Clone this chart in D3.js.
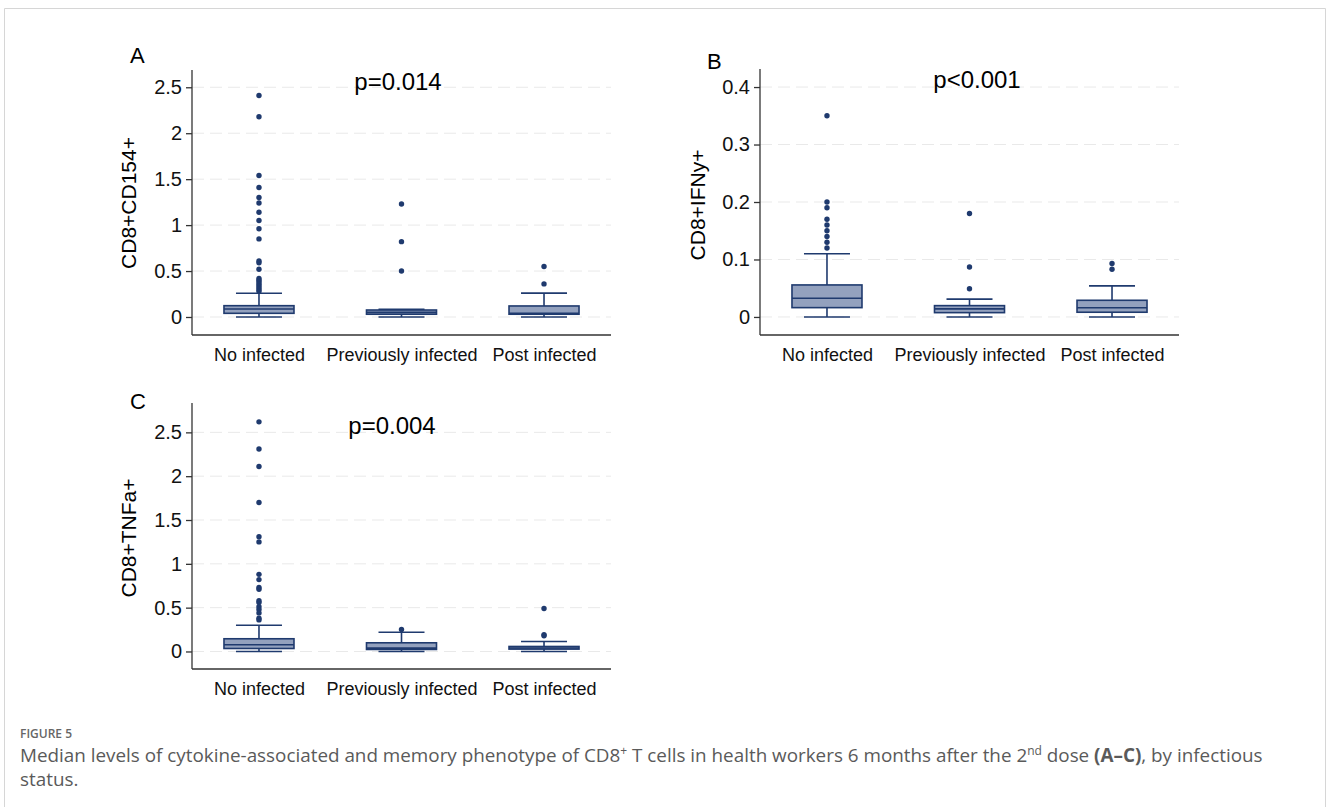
<!DOCTYPE html>
<html>
<head>
<meta charset="utf-8">
<script src="https://cdn.jsdelivr.net/npm/d3@7"></script>
<style>
body { margin: 0; background: #fff; }
svg { display: block; }
.axis path, .axis line { stroke: #333; stroke-width: 1.3; }
.axis text { font-family: "Liberation Sans", Arial, sans-serif; fill: #111; }
.yax text { font-size: 20px; }
.xax text { font-size: 18px; }
</style>
</head>
<body>
<script>
// groups
var groups = ["No infected", "Previously infected", "Post infected"];

// box stats: [lower whisker, q1, median, q3, upper whisker]
var cd154Box = [[0, 0.04, 0.087, 0.123, 0.258], [0, 0.03, 0.05, 0.076, 0.084], [0, 0.03, 0.04, 0.12, 0.26]];
var cd154Out = [
    [2.41, 2.18, 1.54, 1.41, 1.30, 1.24, 1.14, 1.05, 0.96, 0.85, 0.61, 0.59, 0.52, 0.42, 0.40, 0.38, 0.36, 0.34, 0.32, 0.30, 0.28],
    [1.23, 0.82, 0.50],
    [0.55, 0.36]
];
var ifnBox = [[0, 0.0162, 0.0325, 0.0557, 0.11], [0, 0.0075, 0.014, 0.0197, 0.031], [0, 0.0082, 0.016, 0.029, 0.054]];
var ifnOut = [
    [0.35, 0.20, 0.19, 0.17, 0.16, 0.15, 0.14, 0.13, 0.12],
    [0.18, 0.087, 0.049],
    [0.093, 0.083]
];
var tnfBox = [[0, 0.034, 0.076, 0.145, 0.30], [0, 0.023, 0.038, 0.099, 0.22], [0, 0.027, 0.04, 0.057, 0.114]];
var tnfOut = [
    [2.62, 2.31, 2.11, 1.70, 1.31, 1.25, 0.88, 0.82, 0.73, 0.71, 0.58, 0.56, 0.51, 0.48, 0.44, 0.38, 0.36],
    [0.25],
    [0.49, 0.19, 0.18]
];

// ticks
var cd154Ticks = [0, 0.5, 1, 1.5, 2, 2.5];
var ifnTicks = [0, 0.1, 0.2, 0.3, 0.4];
var tnfTicks = [0, 0.5, 1, 1.5, 2, 2.5];

var fillColor = "#93a1be", navy = "#1f3a6e";

var svg = d3.select("body").append("svg")
    .attr("width", 1328)
    .attr("height", 807);

// frame
svg.append("path")
    .attr("d", "M4.5,812 V8.5 H1325.5 V812")
    .attr("fill", "none")
    .attr("stroke", "#d6d6d6");

function drawPanel(p) {
    var x = d3.scalePoint().domain(groups).range([p.x0, p.x1]).padding(0.47);
    var y = d3.scaleLinear().domain(p.domain).range([p.y1, p.y0]);
    var g = svg.append("g");

    // grid
    g.selectAll(".grid").data(p.ticks).enter().append("line")
        .attr("x1", p.x0).attr("x2", p.x1)
        .attr("y1", function(d) { return y(d); })
        .attr("y2", function(d) { return y(d); })
        .attr("stroke", "#e9e9e9")
        .attr("stroke-width", 1)
        .attr("stroke-dasharray", "12,6");

    // axes
    var yAxis = d3.axisLeft(y).tickValues(p.ticks).tickSize(6).tickPadding(4)
        .tickFormat(function(d) { return d3.format("")(d); });
    g.append("g").attr("class", "axis yax")
        .attr("transform", "translate(" + p.x0 + ",0)")
        .call(yAxis)
        .call(function(a) { a.select(".domain").attr("d", "M0," + p.y0 + "V" + p.y1); });

    var xAxis = d3.axisBottom(x).tickSize(0).tickPadding(13);
    g.append("g").attr("class", "axis xax")
        .attr("transform", "translate(0," + p.y1 + ")")
        .call(xAxis)
        .call(function(a) { a.select(".domain").attr("d", "M" + p.x0 + ",0H" + p.x1); });

    // boxes
    var bw = 70, cw = 46;
    groups.forEach(function(grp, i) {
        var s = p.box[i], cx = x(grp);
        var bg = g.append("g").attr("stroke", navy).attr("stroke-width", 1.6);
        bg.append("line").attr("x1", cx).attr("x2", cx).attr("y1", y(s[0])).attr("y2", y(s[1]));
        bg.append("line").attr("x1", cx).attr("x2", cx).attr("y1", y(s[3])).attr("y2", y(s[4]));
        bg.append("line").attr("x1", cx - cw / 2).attr("x2", cx + cw / 2).attr("y1", y(s[0])).attr("y2", y(s[0]));
        bg.append("line").attr("x1", cx - cw / 2).attr("x2", cx + cw / 2).attr("y1", y(s[4])).attr("y2", y(s[4]));
        bg.append("rect")
            .attr("x", cx - bw / 2).attr("width", bw)
            .attr("y", y(s[3])).attr("height", Math.max(y(s[1]) - y(s[3]), 1))
            .attr("fill", fillColor);
        bg.append("line").attr("x1", cx - bw / 2).attr("x2", cx + bw / 2).attr("y1", y(s[2])).attr("y2", y(s[2]));

        g.selectAll(".o" + i).data(p.out[i]).enter().append("circle")
            .attr("cx", cx)
            .attr("cy", function(d) { return y(d); })
            .attr("r", 2.7)
            .attr("fill", navy);
    });

    // texts
    svg.append("text")
        .attr("transform", "translate(" + p.titleX + "," + p.titleY + ") rotate(-90)")
        .attr("text-anchor", "middle")
        .attr("dy", "0.35em")
        .style("font-family", "Liberation Sans, Arial, sans-serif")
        .style("font-size", "21px")
        .text(p.title);
    svg.append("text")
        .attr("x", p.pX).attr("y", p.pY)
        .attr("text-anchor", "middle")
        .attr("dy", "0.35em")
        .style("font-family", "Liberation Sans, Arial, sans-serif")
        .style("font-size", "24px")
        .text(p.pText);
    svg.append("text")
        .attr("x", p.letterX).attr("y", p.letterY)
        .attr("dy", "0.35em")
        .style("font-family", "Liberation Sans, Arial, sans-serif")
        .style("font-size", "22px")
        .text(p.letter);
}

drawPanel({ x0: 192, x1: 611, y0: 70, y1: 335, domain: [-0.196, 2.688], ticks: cd154Ticks,
    box: cd154Box, out: cd154Out, title: "CD8+CD154+", titleX: 129, titleY: 203,
    pText: "p=0.014", pX: 398, pY: 82, letter: "A", letterX: 130, letterY: 55 });
drawPanel({ x0: 760, x1: 1179, y0: 69, y1: 335, domain: [-0.0314, 0.4314], ticks: ifnTicks,
    box: ifnBox, out: ifnOut, title: "CD8+IFNy+", titleX: 698, titleY: 205,
    pText: "p<0.001", pX: 977, pY: 80, letter: "B", letterX: 707, letterY: 61 });
drawPanel({ x0: 192, x1: 611, y0: 403, y1: 669, domain: [-0.2, 2.835], ticks: tnfTicks,
    box: tnfBox, out: tnfOut, title: "CD8+TNFa+", titleX: 129, titleY: 538,
    pText: "p=0.004", pX: 392, pY: 426, letter: "C", letterX: 130, letterY: 401 });

// caption
var cap = svg.append("g")
    .style("font-family", "Open Sans, Noto Sans, sans-serif")
    .style("fill", "#5a5a5a");
cap.append("text").attr("x", 20).attr("y", 738)
    .style("font-size", "12px").style("font-weight", 600).style("fill", "#666")
    .text("FIGURE 5");
var l1 = cap.append("text").attr("x", 20).attr("y", 762).style("font-size", "18.85px");
l1.append("tspan").text("Median levels of cytokine-associated and memory phenotype of CD8");
l1.append("tspan").attr("dy", -7).style("font-size", "12px").text("+");
l1.append("tspan").attr("dy", 7).text(" T cells in health workers 6 months after the 2");
l1.append("tspan").attr("dy", -7).style("font-size", "12px").text("nd");
l1.append("tspan").attr("dy", 7).text(" dose ");
l1.append("tspan").style("font-weight", 700).text("(A\u2013C)");
l1.append("tspan").text(", by infectious");
cap.append("text").attr("x", 20).attr("y", 786).style("font-size", "18.85px").text("status.");
</script>
</body>
</html>
